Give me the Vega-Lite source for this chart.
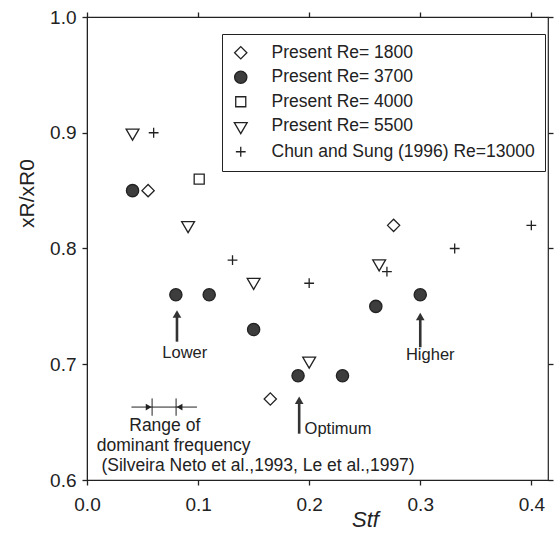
{
  "$schema": "https://vega.github.io/schema/vega-lite/v6.json",
  "width": 461,
  "height": 463,
  "autosize": {"type": "none"},
  "padding": {"left": 87, "top": 17, "right": 9, "bottom": 53},
  "background": "white",
  "config": {
    "font": "Liberation Sans",
    "view": {"stroke": "#222", "strokeWidth": 1.2},
    "axis": {
      "domainColor": "#222",
      "tickColor": "#222",
      "ticks": true,
      "tickSize": 5,
      "tickWidth": 1.3,
      "grid": false,
      "labelFlush": false,
      "labelFont": "Liberation Sans",
      "labelFontSize": 19,
      "labelColor": "#222",
      "titleFont": "Liberation Sans",
      "titleColor": "#222",
      "titleFontWeight": "normal"
    },
    "legend": {
      "orient": "none", "legendX": 135, "legendY": 17,
      "strokeColor": "#222", "padding": 10, "fillColor": "white",
      "labelFont": "Liberation Sans", "labelFontSize": 17.5, "labelColor": "#222",
      "labelOffset": 22, "labelLimit": 400, "rowPadding": 5.5,
      "symbolStrokeWidth": 1.3, "symbolSize": 150
    }
  },
  "datasets": {
    "pts": [
      {"st": 0.055, "xr": 0.85, "series": "Present Re= 1800"},
      {"st": 0.165, "xr": 0.67, "series": "Present Re= 1800"},
      {"st": 0.276, "xr": 0.82, "series": "Present Re= 1800"},
      {"st": 0.041, "xr": 0.85, "series": "Present Re= 3700"},
      {"st": 0.080, "xr": 0.76, "series": "Present Re= 3700"},
      {"st": 0.110, "xr": 0.76, "series": "Present Re= 3700"},
      {"st": 0.150, "xr": 0.73, "series": "Present Re= 3700"},
      {"st": 0.190, "xr": 0.69, "series": "Present Re= 3700"},
      {"st": 0.230, "xr": 0.69, "series": "Present Re= 3700"},
      {"st": 0.260, "xr": 0.75, "series": "Present Re= 3700"},
      {"st": 0.300, "xr": 0.76, "series": "Present Re= 3700"},
      {"st": 0.101, "xr": 0.86, "series": "Present Re= 4000"},
      {"st": 0.041, "xr": 0.90, "series": "Present Re= 5500"},
      {"st": 0.091, "xr": 0.82, "series": "Present Re= 5500"},
      {"st": 0.150, "xr": 0.771, "series": "Present Re= 5500"},
      {"st": 0.200, "xr": 0.703, "series": "Present Re= 5500"},
      {"st": 0.263, "xr": 0.787, "series": "Present Re= 5500"},
      {"st": 0.060, "xr": 0.90, "series": "Chun and Sung (1996) Re=13000"},
      {"st": 0.131, "xr": 0.79, "series": "Chun and Sung (1996) Re=13000"},
      {"st": 0.200, "xr": 0.77, "series": "Chun and Sung (1996) Re=13000"},
      {"st": 0.270, "xr": 0.78, "series": "Chun and Sung (1996) Re=13000"},
      {"st": 0.331, "xr": 0.80, "series": "Chun and Sung (1996) Re=13000"},
      {"st": 0.400, "xr": 0.82, "series": "Chun and Sung (1996) Re=13000"}
    ],
    "arrows": [
      {"st": 0.081, "bottom": 0.7195, "head": 0.7435},
      {"st": 0.191, "bottom": 0.640, "head": 0.669},
      {"st": 0.300, "bottom": 0.7147, "head": 0.7413}
    ],
    "arrowLabels": [
      {"st": 0.088, "xr": 0.710, "label": "Lower"},
      {"st": 0.226, "xr": 0.644, "label": "Optimum"},
      {"st": 0.309, "xr": 0.708, "label": "Higher"}
    ],
    "rangeLines": [
      {"st": 0.040, "st2": 0.099, "xr": 0.663, "xr2": 0.663},
      {"st": 0.0586, "st2": 0.0586, "xr": 0.6705, "xr2": 0.6555},
      {"st": 0.0802, "st2": 0.0802, "xr": 0.6705, "xr2": 0.6555}
    ],
    "rangeHeadRight": [{"st": 0.0555, "xr": 0.663}],
    "rangeHeadLeft": [{"st": 0.0833, "xr": 0.663}],
    "rangeText": [
      {"st": 0.070, "xr": 0.647, "label": "Range of"},
      {"st": 0.078, "xr": 0.629, "label": "dominant frequency"},
      {"st": 0.154, "xr": 0.612, "label": "(Silveira Neto et al.,1993, Le et al.,1997)"}
    ]
  },
  "layer": [
    {
      "data": {"name": "pts"},
      "mark": {"type": "point", "strokeWidth": 1.3, "opacity": 1, "size": 150},
      "encoding": {
        "x": {
          "field": "st", "type": "quantitative",
          "scale": {"domain": [0, 0.415], "nice": false, "zero": false},
          "axis": {
            "orient": "bottom",
            "values": [0, 0.1, 0.2, 0.3, 0.4], "format": ".1f",
            "labelPadding": 10, "title": "Stf", "titleFontSize": 22,
            "titleFontStyle": "italic", "titleX": 278, "titleY": 39,
            "titleBaseline": "middle", "titleAlign": "center"
          }
        },
        "y": {
          "field": "xr", "type": "quantitative",
          "scale": {"domain": [0.6, 1.0], "nice": false, "zero": false},
          "axis": {
            "orient": "left",
            "values": [0.6, 0.7, 0.8, 0.9, 1.0], "format": ".1f",
            "labelPadding": 6, "title": "xR/xR0", "titleFontSize": 21,
            "titleX": -60, "titleY": 176, "titleBaseline": "middle",
            "titleAlign": "center", "titleAngle": 270
          }
        },
        "shape": {
          "field": "series", "type": "nominal",
          "scale": {
            "domain": ["Present Re= 1800", "Present Re= 3700", "Present Re= 4000", "Present Re= 5500", "Chun and Sung (1996) Re=13000"],
            "range": ["diamond", "circle", "M-0.82,-0.82H0.82V0.82H-0.82Z", "M-1.05,-0.6H1.05L0,1.2Z", "M-0.8,0H0.8M0,-0.8V0.8"]
          },
          "legend": {"title": null}
        },
        "fill": {
          "field": "series", "type": "nominal",
          "scale": {
            "domain": ["Present Re= 1800", "Present Re= 3700", "Present Re= 4000", "Present Re= 5500", "Chun and Sung (1996) Re=13000"],
            "range": ["transparent", "#3d3d3d", "transparent", "transparent", "transparent"]
          },
          "legend": {"title": null}
        },
        "stroke": {
          "field": "series", "type": "nominal",
          "scale": {
            "domain": ["Present Re= 1800", "Present Re= 3700", "Present Re= 4000", "Present Re= 5500", "Chun and Sung (1996) Re=13000"],
            "range": ["#222", "#222", "#222", "#222", "#222"]
          },
          "legend": {"title": null}
        }
      }
    },
    {
      "data": {"name": "pts"},
      "mark": {"type": "point", "opacity": 0},
      "encoding": {
        "x": {
          "field": "st", "type": "quantitative",
          "axis": {"orient": "top", "domain": false, "values": [0, 0.1, 0.2, 0.3, 0.4], "labels": false, "title": null}
        },
        "y": {
          "field": "xr", "type": "quantitative",
          "axis": {"orient": "right", "domain": false, "values": [0.6, 0.7, 0.8, 0.9, 1.0], "labels": false, "title": null}
        }
      }
    },
    {
      "data": {"name": "arrows"},
      "mark": {"type": "rule", "strokeWidth": 2.6, "color": "#333"},
      "encoding": {
        "x": {"field": "st", "type": "quantitative", "axis": null},
        "y": {"field": "bottom", "type": "quantitative", "axis": null},
        "y2": {"field": "head"}
      }
    },
    {
      "data": {"name": "arrows"},
      "mark": {"type": "point", "shape": "triangle-up", "filled": true, "size": 75, "color": "#333", "opacity": 1},
      "encoding": {
        "x": {"field": "st", "type": "quantitative", "axis": null},
        "y": {"field": "head", "type": "quantitative", "axis": null}
      }
    },
    {
      "data": {"name": "arrowLabels"},
      "mark": {"type": "text", "fontSize": 16.5, "color": "#222", "align": "center", "baseline": "middle", "font": "Liberation Sans"},
      "encoding": {
        "x": {"field": "st", "type": "quantitative", "axis": null},
        "y": {"field": "xr", "type": "quantitative", "axis": null},
        "text": {"field": "label"}
      }
    },
    {
      "data": {"name": "rangeLines"},
      "mark": {"type": "rule", "strokeWidth": 1, "color": "#222"},
      "encoding": {
        "x": {"field": "st", "type": "quantitative", "axis": null},
        "x2": {"field": "st2"},
        "y": {"field": "xr", "type": "quantitative", "axis": null},
        "y2": {"field": "xr2"}
      }
    },
    {
      "data": {"name": "rangeHeadRight"},
      "mark": {"type": "point", "shape": "triangle-right", "filled": true, "size": 45, "color": "#222", "opacity": 1},
      "encoding": {
        "x": {"field": "st", "type": "quantitative", "axis": null},
        "y": {"field": "xr", "type": "quantitative", "axis": null}
      }
    },
    {
      "data": {"name": "rangeHeadLeft"},
      "mark": {"type": "point", "shape": "triangle-left", "filled": true, "size": 45, "color": "#222", "opacity": 1},
      "encoding": {
        "x": {"field": "st", "type": "quantitative", "axis": null},
        "y": {"field": "xr", "type": "quantitative", "axis": null}
      }
    },
    {
      "data": {"name": "rangeText"},
      "mark": {"type": "text", "fontSize": 17.5, "color": "#222", "align": "center", "baseline": "middle", "font": "Liberation Sans"},
      "encoding": {
        "x": {"field": "st", "type": "quantitative", "axis": null},
        "y": {"field": "xr", "type": "quantitative", "axis": null},
        "text": {"field": "label"}
      }
    }
  ],
  "resolve": {"axis": {"x": "independent", "y": "independent"}}
}
